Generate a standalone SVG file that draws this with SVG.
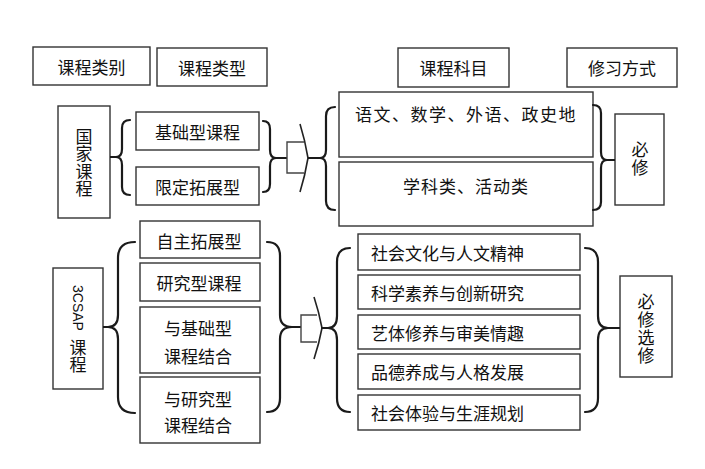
<svg xmlns="http://www.w3.org/2000/svg" width="705" height="469" viewBox="0 0 705 469">
<style>
.box{fill:#fff;stroke:#333;stroke-width:1.4}
.br{fill:none;stroke:#1a1a1a;stroke-width:2.2;stroke-linecap:round}
.ln{fill:none;stroke:#1a1a1a;stroke-width:2}
.ar{fill:none;stroke:#444;stroke-width:1.4}
.hd{fill:none;stroke:#222;stroke-width:1.6}
text{font-family:"Noto Sans CJK SC","Liberation Sans",sans-serif;font-size:17px;fill:#111}
.c{text-anchor:middle;dominant-baseline:central}
.l{text-anchor:start;dominant-baseline:central}
.v{writing-mode:vertical-rl;text-anchor:start}
</style>
<rect width="705" height="469" fill="#fff"/>

<g id="h1"><rect class="box" x="33" y="47" width="117" height="38"/><text class="c" x="91.5" y="66">课程类别</text></g>
<g id="h2"><rect class="box" x="157" y="48" width="110" height="38"/><text class="c" x="212" y="67">课程类型</text></g>
<g id="h3"><rect class="box" x="398" y="48" width="111" height="39"/><text class="c" x="453.5" y="67.5">课程科目</text></g>
<g id="h4"><rect class="box" x="567" y="48" width="110" height="39"/><text class="c" x="622" y="67.5">修习方式</text></g>

<g id="guojia"><rect class="box" x="58" y="106" width="52" height="112"/>
<text class="v" x="84" y="128" letter-spacing="0.4">国家课程</text></g>
<g id="jichu"><rect class="box" x="136" y="112" width="123" height="38"/><text class="c" x="197.5" y="131">基础型课程</text></g>
<g id="xianding"><rect class="box" x="136" y="167" width="123" height="38"/><text class="c" x="197.5" y="186">限定拓展型</text></g>

<g id="yuwen"><rect class="box" x="339" y="92" width="254" height="65"/><text class="c" x="466" y="113" letter-spacing="1.5">语文、数学、外语、政史地</text></g>
<g id="xueke"><rect class="box" x="339" y="162" width="254" height="64"/><text class="c" x="466" y="185" letter-spacing="1">学科类、活动类</text></g>
<g id="bixiu"><rect class="box" x="615" y="114" width="49" height="91"/><text class="v" x="640" y="141.5" letter-spacing="1">必修</text></g>

<g id="csap"><rect class="box" x="53" y="268" width="50" height="121"/>
<text class="v" x="78" y="285"><tspan style="font-family:'Liberation Sans',sans-serif;font-size:14px">3CSAP</tspan><tspan y="338.5">课程</tspan></text></g>

<g id="zizhu"><rect class="box" x="140" y="221" width="120" height="37"/><text class="c" x="199" y="240">自主拓展型</text></g>
<g id="yanjiu"><rect class="box" x="140" y="263" width="120" height="38"/><text class="c" x="199" y="282">研究型课程</text></g>
<g id="yujichu"><rect class="box" x="140" y="307" width="120" height="66"/><text class="c" x="198" y="327">与基础型</text><text class="c" x="198" y="355">课程结合</text></g>
<g id="yuyanjiu"><rect class="box" x="140" y="377" width="120" height="66"/><text class="c" x="198" y="398">与研究型</text><text class="c" x="198" y="424">课程结合</text></g>

<g id="s1"><rect class="box" x="358" y="234" width="222" height="36"/><text class="l" x="371" y="252">社会文化与人文精神</text></g>
<g id="s2"><rect class="box" x="358" y="275" width="222" height="34"/><text class="l" x="371" y="292">科学素养与创新研究</text></g>
<g id="s3"><rect class="box" x="358" y="315" width="222" height="34"/><text class="l" x="371" y="332">艺体修养与审美情趣</text></g>
<g id="s4"><rect class="box" x="358" y="354" width="222" height="35"/><text class="l" x="371" y="371.5">品德养成与人格发展</text></g>
<g id="s5"><rect class="box" x="358" y="395" width="222" height="35"/><text class="l" x="371" y="412.5">社会体验与生涯规划</text></g>

<g id="bixuan"><rect class="box" x="620" y="276" width="52" height="101"/>
<text class="v" x="646" y="293" letter-spacing="1">必修选修</text></g>

<g id="connectors">
<path class="ln" d="M110,157 H118"/>
<path class="br" d="M130,120 Q122,120 122,128 V149 Q122,157 116,157 Q122,157 122,165 V187 Q122,195 130,195"/>
<path class="br" d="M263,121 Q270,121 270,129 V150 Q270,158 276,158 Q270,158 270,166 V184 Q270,192 263,192"/>
<path class="ln" d="M275,158 H287"/>
<path class="ar" d="M304,142 H287 V173 H304"/>
<path class="hd" d="M300,124 Q305,140 308,158 Q305,176 300,192"/>
<path class="ln" d="M308,158 H321"/>
<path class="br" d="M335,107 Q326,107 326,116 V150 Q326,158 320,158 Q326,158 326,166 V201 Q326,210 335,210"/>
<path class="br" d="M593,105 Q601,105 601,113 V152 Q601,160 607,160 Q601,160 601,168 V202 Q601,210 593,210"/>
<path class="ln" d="M606,160 H615"/>
<path class="ln" d="M103,327 H109"/>
<path class="br" d="M135,242 Q118,242 118,258 V315 Q118,327 108,327 Q118,327 118,339 V397 Q118,413 135,413"/>
<path class="br" d="M267,242 Q280,242 280,256 V315 Q280,327 292,327 Q280,327 280,339 V398 Q280,412 267,412"/>
<path class="ln" d="M291,327 H301"/>
<path class="ar" d="M317,315 H301 V342 H317"/>
<path class="hd" d="M314,297 Q319,312 322,328 Q319,344 314,359"/>
<path class="ln" d="M321,328 H330"/>
<path class="br" d="M350,248 Q337,248 337,262 V316 Q337,328 328,328 Q337,328 337,340 V398 Q337,412 350,412"/>
<path class="br" d="M585,248 Q598,248 598,262 V316 Q598,328 608,328 Q598,328 598,340 V398 Q598,412 585,412"/>
<path class="ln" d="M607,328 H620"/>
</g>
</svg>
